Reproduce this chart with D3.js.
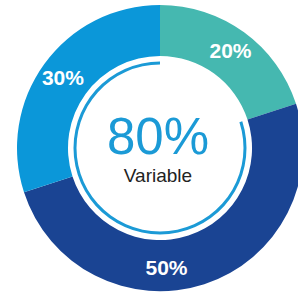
<!DOCTYPE html>
<html>
<head>
<meta charset="utf-8">
<script src="https://cdn.jsdelivr.net/npm/d3@7"></script>
<style>
  body { margin: 0; background: #fff; }
  svg { display: block; font-family: "Liberation Sans", Arial, sans-serif; }
</style>
</head>
<body>
<script>
// chart data
var labels = ["20%", "50%", "30%"];
var values = [20, 50, 30];
var colors = ["#45b8b0", "#1a4493", "#0b97d9"];
var centerValue = 80;
var centerLabel = "Variable";

var w = 298, h = 295;
var cx = 160, cy = 148;
var outerR = 143, innerR = 92;
var ringR = 85;
// angular shift of each label away from the slice centroid (radians)
var labelShift = [0, 0.26, 0];

var svg = d3.select("body")
    .append("svg")
    .attr("width", w)
    .attr("height", h);

var g = svg.append("g")
    .attr("transform", "translate(" + cx + "," + cy + ")");

var pie = d3.pie().sort(null).value(function(d) { return d; });
var arcs = pie(values);

var arc = d3.arc().innerRadius(innerR).outerRadius(outerR);

// slices
g.selectAll("path.slice")
    .data(arcs)
    .enter()
    .append("path")
    .attr("class", "slice")
    .attr("d", arc)
    .attr("fill", function(d, i) { return colors[i]; });

// slice labels
var labelR = 120;
g.selectAll("text.lbl")
    .data(arcs)
    .enter()
    .append("text")
    .attr("class", "lbl")
    .attr("x", function(d, i) {
        var a = (d.startAngle + d.endAngle) / 2 + labelShift[i];
        return labelR * Math.sin(a);
    })
    .attr("y", function(d, i) {
        var a = (d.startAngle + d.endAngle) / 2 + labelShift[i];
        return -labelR * Math.cos(a);
    })
    .attr("dy", "0.36em")
    .attr("text-anchor", "middle")
    .attr("fill", "#fff")
    .attr("font-weight", "bold")
    .attr("font-size", 21)
    .text(function(d, i) { return labels[i]; });

// thin progress ring, drawn counter-clockwise from the top
var angle = d3.scaleLinear().domain([0, 100]).range([0, 2 * Math.PI]);
var ring = d3.arc()
    .innerRadius(ringR - 1.5)
    .outerRadius(ringR + 1.5)
    .startAngle(2 * Math.PI - angle(centerValue))
    .endAngle(2 * Math.PI);

g.append("path")
    .attr("d", ring())
    .attr("fill", "#1b9ad6");

// centre texts
g.append("text")
    .attr("x", -2)
    .attr("y", 6)
    .attr("text-anchor", "middle")
    .attr("fill", "#1b9ad6")
    .attr("font-size", 51)
    .text(centerValue + "%");

g.append("text")
    .attr("x", -2)
    .attr("y", 34)
    .attr("text-anchor", "middle")
    .attr("fill", "#222")
    .attr("font-size", 19)
    .text(centerLabel);
</script>
</body>
</html>
